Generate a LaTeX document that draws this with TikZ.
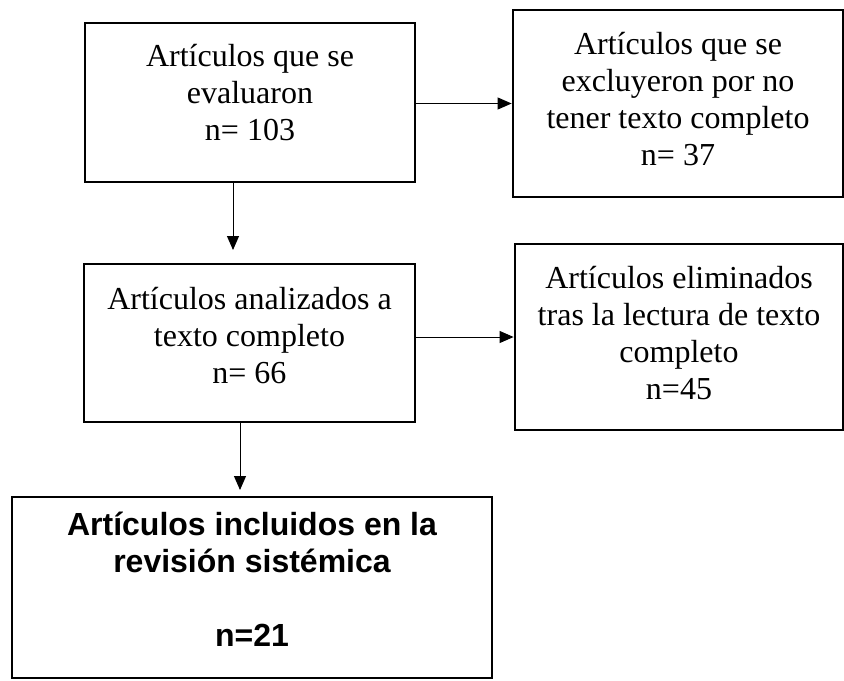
\documentclass[tikz,border=0pt]{standalone}
\usepackage{fontspec}
\setmainfont{Liberation Serif}
\newfontfamily\arialfont{Liberation Sans}
\usetikzlibrary{arrows.meta}
% empuja el texto hacia arriba dentro de la caja
\newcommand{\fondo}[1]{\rule[-#1]{0pt}{#1}}
\tikzset{
  caja/.style={draw=black, line width=1.4pt, align=center, inner sep=0pt,
    font=\fontsize{16}{18.5}\selectfont},
  cajafinal/.style={caja, font=\arialfont\bfseries\fontsize{16}{18.5}\selectfont},
  flecha/.style={-{Triangle[length=7pt,width=6pt]}, line width=0.5pt},
}
\begin{document}
\begin{tikzpicture}[x=0.5pt,y=-0.5pt]
    \useasboundingbox (0,0) rectangle (844,680);
    % cajas
    \node[caja, minimum width=165pt, minimum height=79.5pt] (evaluados) at (250,102.5)
        {Artículos que se\\evaluaron\\n= 103\fondo{10pt}};
    \node[caja, minimum width=165pt, minimum height=93.5pt] (excluidos) at (678,103.5)
        {Artículos que se\\excluyeron por no\\tener texto completo\\n= 37\fondo{5pt}};
    \node[caja, minimum width=165.5pt, minimum height=79pt] (analizados) at (249.5,343)
        {Artículos analizados a\\texto completo\\n= 66\fondo{8pt}};
    \node[caja, minimum width=164pt, minimum height=93pt] (eliminados) at (679,337)
        {Artículos eliminados\\tras la lectura de texto\\completo\\n=45\fondo{4pt}};
    \node[cajafinal, minimum width=240pt, minimum height=90.5pt] (incluidos) at (252,587.5)
        {Artículos incluidos en la\\revisión sistémica\\[18.5pt]n=21\fondo{8pt}};
    % flechas
    \coordinate (baja1) at (233,250);
    \coordinate (baja2) at (240,490);
    \draw[flecha] (evaluados.east |- excluidos.west) -- (excluidos.west);
    \draw[flecha] (baja1 |- evaluados.south) -- (baja1);
    \draw[flecha] (analizados.east |- eliminados.west) -- (eliminados.west);
    \draw[flecha] (baja2 |- analizados.south) -- (baja2);
\end{tikzpicture}
\end{document}
